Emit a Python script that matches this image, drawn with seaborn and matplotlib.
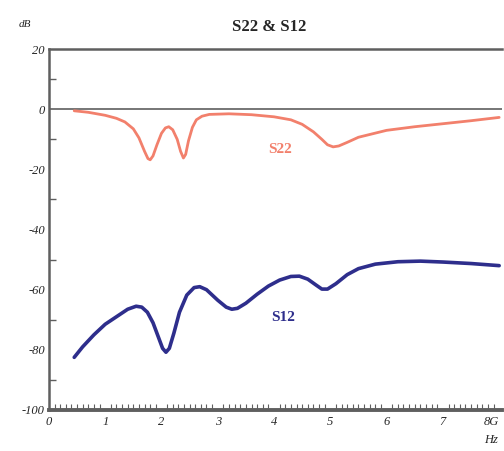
import numpy as np
import pandas as pd
import matplotlib
matplotlib.use("Agg")
import matplotlib.pyplot as plt
import seaborn as sns
from matplotlib.ticker import MultipleLocator

# ── Data (GHz, dB) ───────────────────────────────────────────
s22_freq = [0.45, 0.7, 1.0, 1.2, 1.35, 1.5, 1.6, 1.7, 1.76, 1.8, 1.85, 1.92, 2.0,
            2.07, 2.13, 2.2, 2.28, 2.34, 2.39, 2.43, 2.48, 2.55, 2.62, 2.72, 2.85,
            3.2, 3.6, 4.0, 4.3, 4.5, 4.7, 4.85, 4.95, 5.05, 5.15, 5.3, 5.5,
            6.0, 6.5, 7.0, 7.5, 8.0]
s22_db = [-0.5, -1.0, -2.0, -3.0, -4.2, -6.5, -9.5, -14.0, -16.4, -16.8, -15.5, -11.8, -8.0,
          -6.2, -5.8, -6.8, -10.0, -14.0, -16.2, -15.0, -10.5, -6.0, -3.5, -2.3, -1.7,
          -1.5, -1.8, -2.5, -3.5, -5.0, -7.5, -10.0, -11.8, -12.5, -12.2, -11.0, -9.3,
          -7.0, -5.8, -4.8, -3.8, -2.7]

s12_freq = [0.45, 0.6, 0.8, 1.0, 1.2, 1.4, 1.55, 1.65, 1.75, 1.85, 1.95, 2.02, 2.08,
            2.14, 2.22, 2.32, 2.45, 2.58, 2.68, 2.8, 3.0, 3.15, 3.25, 3.35, 3.5,
            3.7, 3.9, 4.1, 4.3, 4.45, 4.6, 4.75, 4.85, 4.95, 5.1, 5.3, 5.5,
            5.8, 6.2, 6.6, 7.0, 7.5, 8.0]
s12_db = [-82.5, -79.0, -75.0, -71.5, -69.0, -66.5, -65.5, -65.8, -67.5, -71.0, -76.0, -79.5, -80.8,
          -79.5, -74.5, -67.5, -61.8, -59.3, -59.0, -60.0, -63.5, -65.8, -66.5, -66.2, -64.5,
          -61.5, -58.8, -56.8, -55.6, -55.5, -56.5, -58.5, -59.8, -59.8, -58.0, -55.0, -53.0,
          -51.5, -50.7, -50.5, -50.8, -51.3, -52.0]

x_ticks = [0, 1, 2, 3, 4, 5, 6, 7, 8]
x_labels = ["0", "1", "2", "3", "4", "5", "6", "7", "8G"]
y_ticks = [20, 0, -20, -40, -60, -80, -100]

S22_COLOR = "#F2806C"
S12_COLOR = "#2E2E8C"
GRAY = "#5f5f5f"

sns.set_style("white")
plt.rcParams["font.family"] = ["Liberation Serif", "DejaVu Serif"]

df22 = pd.DataFrame({"freq": s22_freq, "db": s22_db})
df12 = pd.DataFrame({"freq": s12_freq, "db": s12_db})

fig = plt.figure(figsize=(5.04, 4.51), dpi=100)
ax = fig.add_axes([0.097, 0.091, 0.899, 0.800])

sns.lineplot(data=df22, x="freq", y="db", ax=ax, color=S22_COLOR, lw=2.0)
sns.lineplot(data=df12, x="freq", y="db", ax=ax, color=S12_COLOR, lw=2.6)
for ln in ax.lines:
    ln.set_solid_joinstyle("round")
    ln.set_solid_capstyle("round")

ax.axhline(0, color=GRAY, lw=1.2, zorder=1)

ax.set_xlim(0, 8.05)
ax.set_ylim(-100, 20)
ax.set_xlabel("")
ax.set_ylabel("")

ax.set_xticks(x_ticks)
ax.set_xticklabels(x_labels, style="italic", fontsize=9)
ax.get_xticklabels()[-1].set_horizontalalignment("right")
ax.xaxis.set_minor_locator(MultipleLocator(0.1))
ax.set_yticks(y_ticks)
ax.set_yticklabels([str(v) for v in y_ticks], style="italic", fontsize=9)
ax.yaxis.set_minor_locator(MultipleLocator(10))

ax.tick_params(axis="x", which="major", direction="in", length=8, width=1, color=GRAY, pad=4)
ax.tick_params(axis="x", which="minor", direction="in", length=4, width=0.8, color=GRAY, bottom=True)
ax.tick_params(axis="y", which="major", direction="in", length=5, width=1, color=GRAY, pad=3)
ax.tick_params(axis="y", which="minor", direction="in", length=5, width=1, color=GRAY, left=True)

ax.spines["right"].set_visible(False)
ax.spines["top"].set_color(GRAY)
ax.spines["top"].set_linewidth(1.8)
ax.spines["left"].set_color(GRAY)
ax.spines["left"].set_linewidth(1.8)
ax.spines["bottom"].set_color(GRAY)
ax.spines["bottom"].set_linewidth(2.8)

ax.text(4.1, -13.5, "S22", color=S22_COLOR, fontsize=11, fontweight="bold",
        ha="center", va="center")
ax.text(4.17, -69.3, "S12", color=S12_COLOR, fontsize=11, fontweight="bold",
        ha="center", va="center")

fig.text(0.535, 0.94, "S22 & S12", ha="center", va="center", fontsize=12, fontweight="bold")
fig.text(0.05, 0.945, "dB", ha="center", va="center", fontsize=8, style="italic")
fig.text(0.975, 0.025, "Hz", ha="center", va="center", fontsize=9, style="italic")

fig.savefig("out.png", dpi=100)
